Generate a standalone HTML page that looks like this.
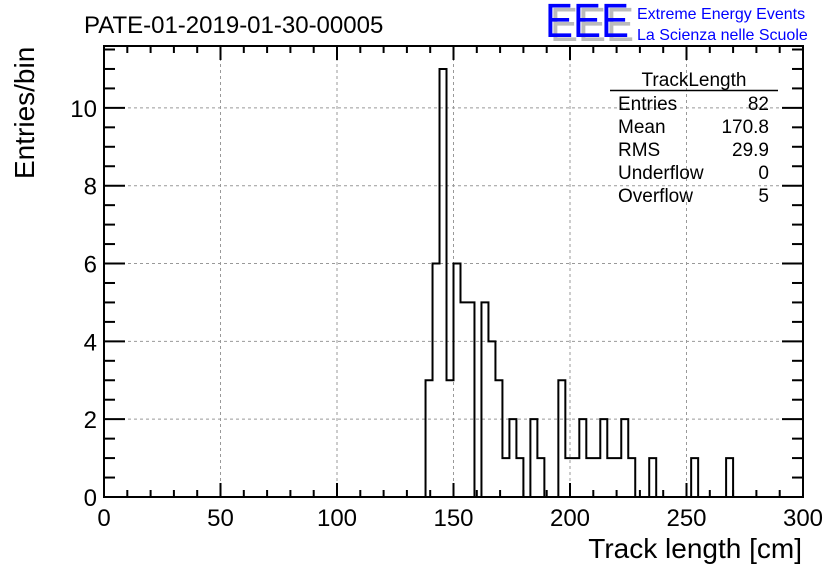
<!DOCTYPE html>
<html><head><meta charset="utf-8"><style>
html,body{margin:0;padding:0;background:#fff;}
svg{display:block;font-family:"Liberation Sans",Arial,sans-serif;}
</style></head><body>
<svg id="chart" width="836" height="572" viewBox="0 0 836 572">
<g id="grid"></g>
<g id="hist"></g>
<g id="axes"></g>
<text x="84" y="33" font-size="24">PATE-01-2019-01-30-00005</text>
<g>
<text x="550" y="41" font-size="48" fill="#bbb" textLength="84" lengthAdjust="spacingAndGlyphs">EEE</text>
<text x="545" y="37" font-size="48" fill="#0000ff" textLength="84" lengthAdjust="spacingAndGlyphs">EEE</text>
<text x="637" y="19" font-size="16" fill="#0000ff">Extreme Energy Events</text>
<text x="637" y="40" font-size="16" fill="#0000ff">La Scienza nelle Scuole</text>
</g>
<g font-size="19">
<text x="694" y="86" text-anchor="middle">TrackLength</text>
<line x1="610" y1="90.5" x2="778" y2="90.5" stroke="#000" stroke-width="1.5"/>
<text x="618" y="110">Entries</text><text x="769" y="110" text-anchor="end">82</text>
<text x="618" y="133">Mean</text><text x="769" y="133" text-anchor="end">170.8</text>
<text x="618" y="156">RMS</text><text x="769" y="156" text-anchor="end">29.9</text>
<text x="618" y="179">Underflow</text><text x="769" y="179" text-anchor="end">0</text>
<text x="618" y="202">Overflow</text><text x="769" y="202" text-anchor="end">5</text>
</g>
<text x="802" y="558" font-size="28" text-anchor="end">Track length [cm]</text>
<text transform="translate(34,179) rotate(-90)" font-size="28">Entries/bin</text>
</svg>
<script>
const binStart = [138,141,144,147,150,153,156,159,162,165,168,171,174,177,180,183,186,189,192,195,198,201,204,207,210,213,216,219,222,225,228,231,234,237,240,243,246,249,252,255,258,261,264,267,270];
const counts   = [3,6,11,3,6,5,5,0,5,4,3,1,2,1,0,2,1,0,0,3,1,1,2,1,1,2,1,1,2,1,0,0,1,0,0,0,0,0,1,0,0,0,0,1,0];
const binWidth = 3;
const xTicks = [0,50,100,150,200,250,300];
const yTicks = [0,2,4,6,8,10];
const L=104,R=803,T=46,B=497;
const xMin=0,xMax=300,yMin=0,yMax=11.59;
const sx=v=>L+(v-xMin)/(xMax-xMin)*(R-L);
const sy=v=>B-(v-yMin)/(yMax-yMin)*(B-T);
const NS="http://www.w3.org/2000/svg";
function mk(tag,attrs,parent){const e=document.createElementNS(NS,tag);for(const k in attrs)e.setAttribute(k,attrs[k]);parent.appendChild(e);return e;}
const grid=document.getElementById('grid'),axes=document.getElementById('axes'),hist=document.getElementById('hist');
xTicks.forEach(v=>{if(v>xMin&&v<xMax){const l=mk('line',{x1:sx(v),x2:sx(v),y1:T,y2:B,stroke:'#999','stroke-dasharray':'3,3','stroke-width':1},grid);

}});
yTicks.forEach(v=>{if(v>yMin){const l=mk('line',{x1:L,x2:R,y1:sy(v),y2:sy(v),stroke:'#999','stroke-dasharray':'3,3','stroke-width':1},grid);

}});
let d='M'+sx(binStart[0])+','+sy(0);
binStart.forEach((s,i)=>{d+=' L'+sx(s)+','+sy(counts[i])+' L'+sx(s+binWidth)+','+sy(counts[i]);});
d+=' L'+sx(binStart[binStart.length-1]+binWidth)+','+sy(0);
const p=mk('path',{d:d,fill:'none',stroke:'#000','stroke-width':2},hist);


const fr=mk('rect',{x:L,y:T,width:R-L,height:B-T,fill:'none',stroke:'#000','stroke-width':2},axes);


for(let v=xMin;v<=xMax;v+=10){const major=v%50===0;const len=major?14:7;
mk('line',{x1:sx(v),x2:sx(v),y1:B,y2:B-len,stroke:'#000','stroke-width':2},axes);
mk('line',{x1:sx(v),x2:sx(v),y1:T,y2:T+len,stroke:'#000','stroke-width':2},axes);}
xTicks.forEach(v=>{const t=mk('text',{x:sx(v),y:B+29,'font-size':24,'text-anchor':'middle'},axes);t.textContent=v;

});
for(let v=0;v<=yMax;v+=0.5){const major=Math.abs(v%2)<1e-9;const len=major?21:11;
mk('line',{x1:L,x2:L+len,y1:sy(v),y2:sy(v),stroke:'#000','stroke-width':2},axes);
mk('line',{x1:R,x2:R-len,y1:sy(v),y2:sy(v),stroke:'#000','stroke-width':2},axes);}
yTicks.forEach(v=>{const t=mk('text',{x:L-7,y:sy(v)+9,'font-size':24,'text-anchor':'end'},axes);t.textContent=v;

});
</script>
</body></html>
